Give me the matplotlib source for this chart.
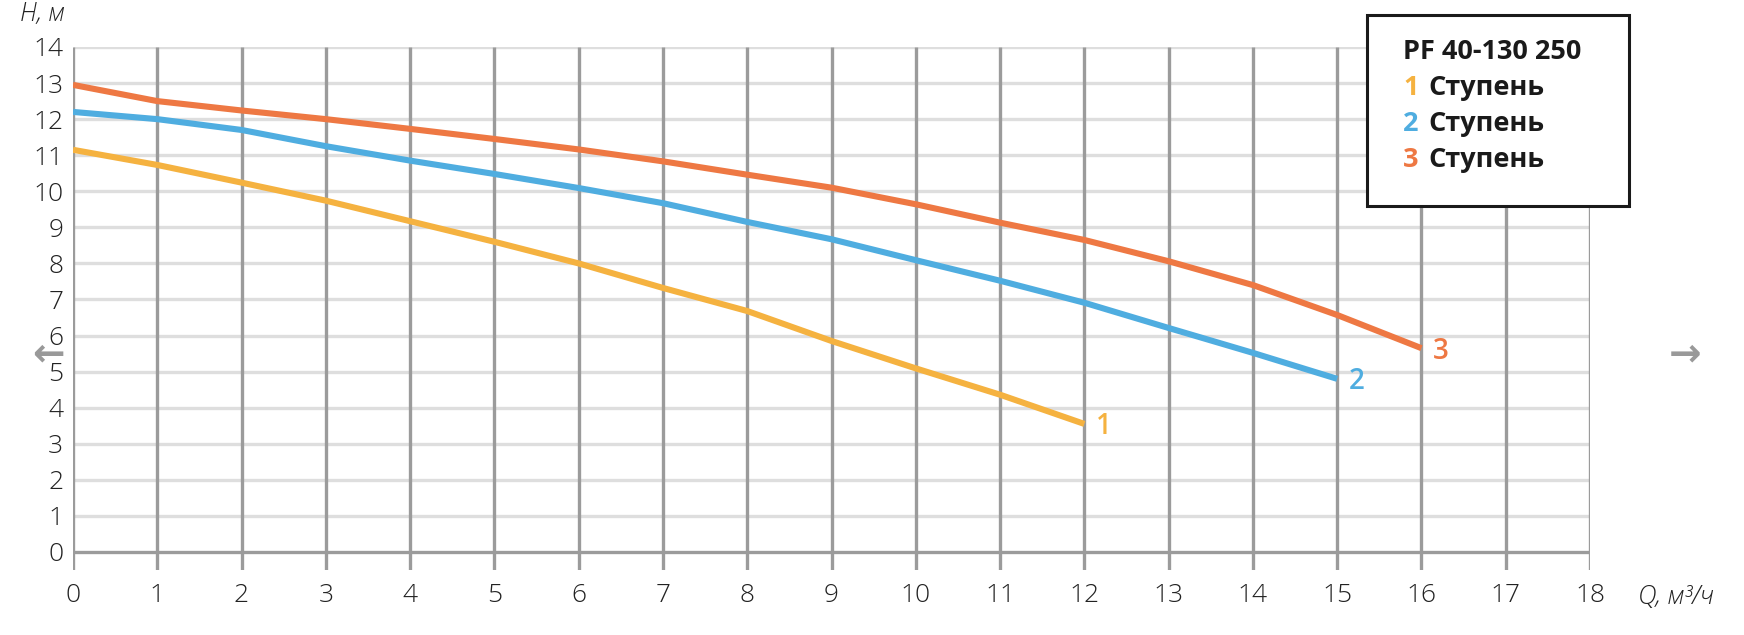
import matplotlib.pyplot as plt
from matplotlib.patches import Rectangle

# расход, м3/ч и напор, м для каждой ступени
q1 = list(range(0, 13))
h1 = [11.15, 10.73, 10.24, 9.74, 9.17, 8.6, 8.0, 7.32, 6.68, 5.85, 5.09, 4.36, 3.55]
q2 = list(range(0, 16))
h2 = [12.2, 12.0, 11.7, 11.25, 10.85, 10.48, 10.09, 9.67, 9.15, 8.67, 8.09, 7.52, 6.91, 6.21, 5.52, 4.8]
q3 = list(range(0, 17))
h3 = [12.95, 12.5, 12.24, 12.0, 11.73, 11.45, 11.16, 10.83, 10.46, 10.1, 9.64, 9.13, 8.65, 8.06, 7.4, 6.57, 5.65]

x_ticks = list(range(0, 19))
y_ticks = list(range(0, 15))
stage_names = ["1", "2", "3"]
title = "PF 40-130 250"

c_yel = "#f5b240"
c_blue = "#4fade0"
c_orng = "#ee7843"

plt.rcParams['font.family'] = ['Open Sans', 'DejaVu Sans']

W, H = 1744, 635
fig = plt.figure(figsize=(W / 100, H / 100), dpi=100)
ax = fig.add_axes([73 / W, 65 / H, (1590 - 73) / W, (570 - 47) / H])
ax.set_xlim(0, 18)
ax.set_ylim(-0.5, 14)
for sp in ax.spines.values():
    sp.set_visible(False)

# сетка
for y in y_ticks:
    col = "#9b9b9b" if y == 0 else "#dedede"
    ax.plot([0, 18], [y, y], color=col, lw=2.4, zorder=1, solid_capstyle='butt')
for x in x_ticks:
    ax.plot([x, x], [-0.5, 14], color="#9b9b9b", lw=2.4, zorder=2, solid_capstyle='butt')

ax.set_xticks(x_ticks)
ax.set_yticks(y_ticks)
ax.tick_params(axis='both', length=0, labelsize=19, labelcolor="#222222")
ax.tick_params(axis='x', pad=9)
ax.tick_params(axis='y', pad=7)
for lab in ax.get_xticklabels() + ax.get_yticklabels():
    lab.set_fontweight('light')

# кривые
for q, h, c, name in [(q1, h1, c_yel, "1"), (q2, h2, c_blue, "2"), (q3, h3, c_orng, "3")]:
    ax.plot(q, h, color=c, lw=4.4, zorder=3, solid_capstyle='butt', solid_joinstyle='round')
    ax.text(q[-1] + 0.14, h[-1] - 0.08, name, color=c, fontsize=20, weight='semibold',
            ha='left', va='center')

fig.text(20 / W, 1 - 14 / H, "H, м", fontsize=18, style='italic', weight='light',
         color="#222222", va='center', ha='left')
fig.text(1638 / W, 1 - 598 / H, "Q, м³/ч", fontsize=18.5, style='italic', weight='light',
         color="#222222", va='center', ha='left')

# навигационные стрелки
fig.text(48 / W, 1 - 354 / H, "←", fontsize=28, color="#999999", ha='center', va='center',
         family='DejaVu Sans', weight='bold')
fig.text(1685 / W, 1 - 354 / H, "→", fontsize=28, color="#999999", ha='center', va='center',
         family='DejaVu Sans', weight='bold')

# легенда
box = Rectangle((1367 / W, 1 - 206 / H), 262 / W, 191 / H, transform=fig.transFigure,
                facecolor="white", edgecolor="#1a1a1a", lw=2.2, zorder=5)
fig.patches.append(box)
fig.text(1403 / W, 1 - 52 / H, title, fontsize=19.5, weight='bold', color="#1a1a1a",
         va='center', ha='left', zorder=6)
for i, (name, c) in enumerate(zip(stage_names, [c_yel, c_blue, c_orng])):
    yy = 1 - (88 + i * 36) / H
    fig.text(1403 / W, yy, name, fontsize=19.5, weight='bold', color=c, va='center', ha='left', zorder=6)
    fig.text(1428 / W, yy, "Ступень", fontsize=19.5, weight='bold', color="#1a1a1a",
             va='center', ha='left', zorder=6)

fig.savefig("out.png", dpi=100)
